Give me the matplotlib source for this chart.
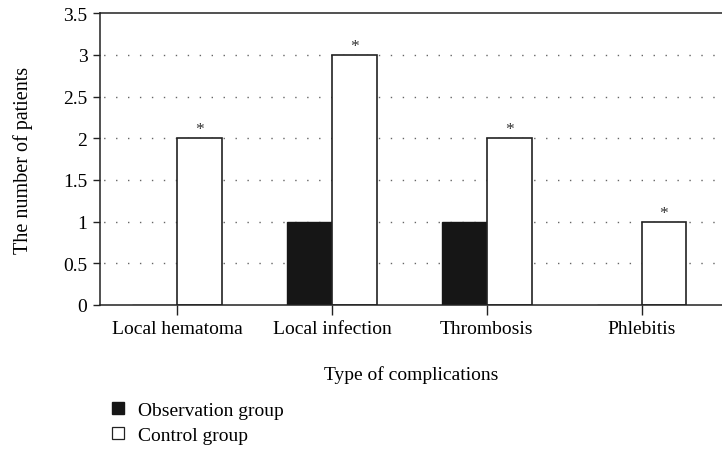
import numpy as np
import matplotlib.pyplot as plt
from matplotlib.lines import Line2D

plt.rcParams['font.family'] = ['Liberation Serif', 'DejaVu Serif']

categories = ['Local hematoma', 'Local infection', 'Thrombosis', 'Phlebitis']
observation = [0, 1, 1, 0]
control = [2, 3, 2, 1]
significant = [True, True, True, True]

fig = plt.figure(figsize=(7.22, 4.56), dpi=100)
ax = fig.add_axes([0.1385, 0.329, 0.8615, 0.64])

x = np.arange(len(categories))
w = 0.29

# dotted horizontal guides behind the bars
for yv in np.arange(0.5, 3.01, 0.5):
    ax.axhline(yv, color='#666666', lw=1.0, ls=(6, (1, 7.6)), zorder=0)

ax.bar(x - w / 2, observation, w, color='#161616', edgecolor='#161616',
       lw=1, align='center', zorder=2)
ax.bar(x + w / 2, control, w, color='white', edgecolor='#222222',
       lw=1.2, align='center', zorder=2)

for xi, v, s in zip(x, control, significant):
    if s:
        ax.text(xi + w / 2, v + 0.01, '*', ha='center', va='bottom',
                fontsize=12.5, color='#333333')

ax.set_xlim(-0.5, 3.52)
ax.set_ylim(0, 3.5)
ax.set_yticks(np.arange(0, 3.51, 0.5))
ax.set_yticklabels(['0', '0.5', '1', '1.5', '2', '2.5', '3', '3.5'])
ax.set_xticks(x)
ax.set_xticklabels(categories)
ax.tick_params(axis='both', labelsize=14, direction='out', width=1,
               color='#222222')
ax.tick_params(axis='x', length=7, pad=4)
ax.tick_params(axis='y', length=5, pad=4)

for side in ['left', 'top', 'bottom']:
    ax.spines[side].set_linewidth(1.1)
    ax.spines[side].set_color('#222222')
ax.spines['right'].set_visible(False)

ax.set_ylabel('The number of patients', fontsize=14.5, labelpad=22)
ax.set_xlabel('Type of complications', fontsize=14, labelpad=20)

handles = [
    Line2D([], [], marker='s', ls='none', markersize=8.5,
           markerfacecolor='#161616', markeredgecolor='#161616'),
    Line2D([], [], marker='s', ls='none', markersize=8.5,
           markerfacecolor='white', markeredgecolor='#222222', markeredgewidth=0.9),
]
fig.legend(handles, ['Observation group', 'Control group'],
           loc='upper left', bbox_to_anchor=(0.142, 0.135),
           frameon=False, fontsize=14, handlelength=0.8,
           handletextpad=0.6, labelspacing=0.4, borderaxespad=0)

fig.savefig('out.png', dpi=100)
